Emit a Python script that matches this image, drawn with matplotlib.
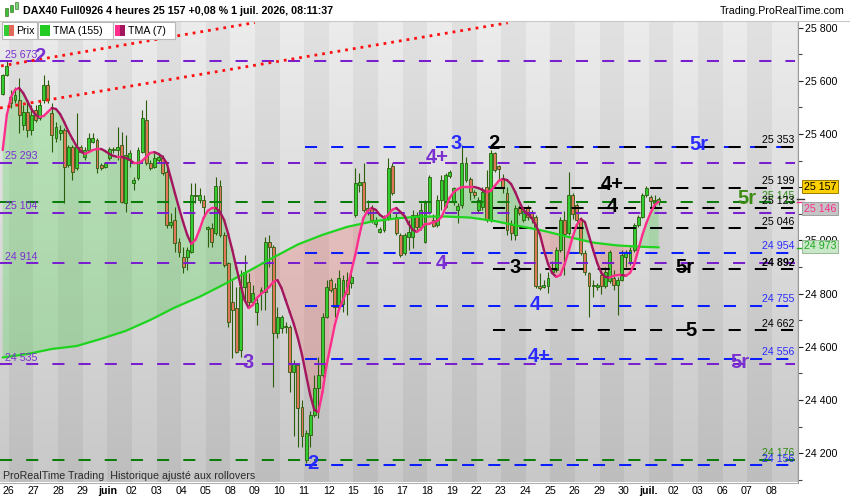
import numpy as np
import matplotlib
matplotlib.use('Agg')
import matplotlib.pyplot as plt
from matplotlib.collections import LineCollection
from matplotlib.patches import Rectangle
from matplotlib.ticker import FixedLocator, FuncFormatter, MultipleLocator

plt.rcParams['font.family'] = ['Liberation Sans', 'DejaVu Sans']

# ---------------- data (4h bars, index 0..160) ----------------
opens = [25549, 25622, 25541, 25528, 25528, 25434, 25484, 25415, 25490, 25459,
         25528, 25584, 25478, 25384, 25403, 25415, 25284, 25353, 25271, 25350,
         25315, 25340, 25371, 25378, 25284, 25277, 25309, 25340, 25340, 25359,
         25140, 25303, 25215, 25234, 25334, 25453, 25290, 25277, 25303, 25309,
         25259, 25058, 25077, 24996, 24939, 24939, 24958, 25167, 25152, 25152,
         25042, 25046, 25027, 25205, 25021, 24914, 24770, 24745, 24588, 24826,
         24845, 24770, 24732, 24801, 24808, 24996, 24977, 24651, 24670, 24674,
         24676, 24507, 24532, 24375, 24175, 24269, 24344, 24444, 24494, 24714,
         24852, 24820, 24751, 24760, 24850, 24839, 25096, 25209, 25221, 25115,
         25121, 25062, 25033, 25040, 25083, 25278, 25090, 25021, 24952, 25014,
         25014, 25096, 25052, 24996, 25108, 25077, 25058, 25152, 25127, 25244,
         25146, 25115, 25133, 25227, 25230, 25184, 25115, 25127, 25202, 25077,
         25328, 25278, 25234, 25180, 25058, 25021, 25127, 25077, 25121, 25102,
         25090, 24829, 24825, 24827, 24883, 24889, 24965, 25077, 25027, 25171,
         25134, 25077, 24952, 24877, 24827, 24825, 24870, 24830, 24846, 24860,
         24833, 24852, 24939, 24914, 24965, 25058, 25090, 25171, 25165, 25140,
         25150]
highs = [25626, 25678, 25566, 25578, 25610, 25509, 25528, 25509, 25509, 25528,
         25622, 25603, 25516, 25447, 25434, 25422, 25359, 25359, 25478, 25359,
         25353, 25403, 25403, 25384, 25290, 25296, 25353, 25353, 25428, 25409,
         25396, 25340, 25240, 25353, 25490, 25528, 25303, 25328, 25328, 25321,
         25271, 25102, 25127, 25008, 24977, 24977, 25215, 25215, 25196, 25171,
         25054, 25065, 25240, 25227, 25033, 24920, 24852, 24826, 24889, 24946,
         24877, 24833, 24783, 24826, 25014, 25021, 24983, 24751, 24720, 24695,
         24682, 24551, 24538, 24400, 24288, 24357, 24494, 24563, 24726, 24852,
         24858, 24839, 24889, 24870, 24880, 24877, 25271, 25253, 25290, 25152,
         25133, 25090, 25052, 25096, 25309, 25290, 25108, 25027, 25027, 25077,
         25115, 25108, 25140, 25152, 25246, 25100, 25171, 25246, 25253, 25265,
         25202, 25140, 25359, 25315, 25240, 25190, 25165, 25202, 25265, 25340,
         25334, 25284, 25250, 25200, 25077, 25134, 25134, 25121, 25134, 25115,
         25096, 24877, 24852, 24883, 24921, 24977, 25090, 25109, 25259, 25180,
         25140, 25090, 24964, 24883, 24852, 24839, 24890, 24900, 24965, 24889,
         24864, 24965, 24965, 24977, 25065, 25096, 25178, 25203, 25171, 25171,
         25165]
lows = [25547, 25618, 25497, 25516, 25403, 25415, 25390, 25396, 25447, 25453,
        25516, 25516, 25334, 25371, 25378, 25140, 25277, 25227, 25265, 25328,
        25303, 25334, 25365, 25252, 25265, 25271, 25303, 25328, 25303, 25140,
        25108, 25277, 25190, 25227, 25328, 25284, 25265, 25271, 25296, 25246,
        25046, 25046, 24958, 24939, 24877, 24889, 24952, 25140, 25140, 25083,
        24977, 24977, 25021, 25014, 24902, 24676, 24557, 24576, 24563, 24776,
        24745, 24764, 24682, 24739, 24739, 24902, 24449, 24632, 24651, 24651,
        24432, 24263, 24225, 24225, 24165, 24225, 24338, 24332, 24488, 24707,
        24808, 24714, 24739, 24730, 24720, 24820, 25090, 25184, 25108, 25096,
        25065, 25052, 25027, 25033, 25077, 25171, 25021, 24939, 24946, 24964,
        24971, 25040, 25040, 24989, 25100, 25050, 25052, 25115, 25121, 25234,
        25133, 25065, 25121, 25221, 25152, 25159, 25108, 25115, 25071, 25071,
        25259, 25227, 25180, 25020, 25002, 25002, 25096, 25071, 25077, 25065,
        24820, 24814, 24820, 24802, 24877, 24883, 24958, 24871, 25021, 25080,
        25052, 24946, 24871, 24714, 24789, 24814, 24800, 24820, 24839, 24814,
        24720, 24846, 24902, 24908, 24958, 25052, 25084, 25165, 25127, 25121,
        25135]
closes = [25622, 25656, 25516, 25547, 25472, 25484, 25415, 25472, 25453, 25509,
          25584, 25528, 25396, 25428, 25415, 25277, 25353, 25259, 25353, 25334,
          25340, 25384, 25384, 25271, 25271, 25290, 25344, 25344, 25353, 25146,
          25321, 25328, 25227, 25340, 25459, 25290, 25271, 25309, 25315, 25252,
          25058, 25071, 24989, 24958, 24902, 24964, 25171, 25172, 25171, 25125,
          25049, 24996, 25205, 25021, 24908, 24695, 24739, 24582, 24826, 24883,
          24770, 24801, 24764, 24814, 24996, 24977, 24651, 24714, 24714, 24679,
          24507, 24538, 24369, 24263, 24275, 24344, 24444, 24494, 24714, 24826,
          24814, 24751, 24858, 24850, 24800, 24864, 25215, 25221, 25115, 25121,
          25077, 25075, 25043, 25083, 25271, 25177, 25027, 24946, 25021, 25033,
          25096, 25052, 25115, 25140, 25240, 25055, 25152, 25227, 25246, 25256,
          25196, 25130, 25290, 25290, 25184, 25171, 25152, 25184, 25077, 25328,
          25265, 25268, 25196, 25040, 25027, 25121, 25102, 25109, 25090, 25084,
          24827, 24820, 24832, 24858, 24896, 24965, 25077, 25025, 25171, 25100,
          25077, 24952, 24883, 24827, 24833, 24833, 24830, 24880, 24958, 24833,
          24852, 24946, 24952, 24965, 25058, 25090, 25171, 25196, 25150, 25152,
          25157]

tma7 = [25340, 25471, 25539, 25566, 25573, 25554, 25524, 25494, 25472, 25464,
        25468, 25483, 25498, 25494, 25475, 25445, 25411, 25382, 25355, 25336,
        25325, 25332, 25340, 25344, 25344, 25336, 25325, 25318, 25314, 25314,
        25310, 25303, 25291, 25291, 25299, 25314, 25329, 25332, 25325, 25314,
        25291, 25235, 25178, 25122, 25069, 25021, 24987, 25002, 25040, 25085,
        25111, 25122, 25122, 25107, 25077, 25024, 24964, 24897, 24833, 24776,
        24746, 24757, 24784, 24799, 24810, 24825, 24844, 24851, 24821, 24776,
        24731, 24686, 24633, 24570, 24494, 24419, 24363, 24355, 24430, 24532,
        24607, 24682, 24739, 24776, 24814, 24882, 24946, 25021, 25085, 25111,
        25122, 25115, 25096, 25085, 25096, 25115, 25122, 25107, 25092, 25062,
        25040, 25032, 25043, 25062, 25062, 25069, 25073, 25088, 25122, 25160,
        25182, 25193, 25201, 25201, 25201, 25201, 25197, 25190, 25182, 25186,
        25205, 25224, 25231, 25227, 25212, 25182, 25145, 25115, 25100, 25085,
        25058, 25024, 24964, 24912, 24878, 24863, 24870, 24908, 24957, 25013,
        25058, 25081, 25069, 25017, 24964, 24915, 24878, 24863, 24860, 24867,
        24870, 24870, 24867, 24878, 24908, 24964, 25020, 25066, 25103, 25133,
        25146]

tma155_bars = [0, 6, 12, 18, 24, 30, 36, 42, 48, 54, 60, 66, 72, 78, 84, 90,
               96, 102, 108, 114, 120, 126, 132, 138, 144, 150, 156, 160]
tma155 = [24560, 24573, 24592, 24603, 24630, 24660, 24701, 24748, 24788, 24835,
          24885, 24936, 24985, 25021, 25051, 25071, 25083, 25090, 25090, 25086,
          25073, 25054, 25036, 25013, 24992, 24981, 24976, 24974]

day_labels = ['26', '27', '28', '29', 'juin', '02', '03', '04', '05', '08', '09',
              '10', '11', '12', '15', '16', '17', '18', '19', '22', '23', '24',
              '25', '26', '29', '30', 'juil.', '02', '03', '06', '07', '08']

purple_levels = [25673, 25293, 25104, 24914, 24535]
green_levels = [25145, 24176]
blue_levels = [25353, 24954, 24755, 24556, 24156]
black_levels = [25353, 25199, 25123, 25046, 24892, 24662]

right_label_prices = [25353, 25199, 25145, 25123, 25046, 24954, 24892, 24755,
                      24662, 24556, 24176, 24156]
right_label_kinds = ['k', 'k', 'g', 'k', 'k', 'b', 'kb', 'b', 'k', 'b', 'g', 'b']

wave_texts = ['2', '3', '2', '4+', '3', '2', '4', '3', '4', '4+', '4+', '4',
              '5r', '5r', '5r', '5', '5r']
wave_bars = [9.1, 59.8, 75.7, 105.9, 110.6, 119.8, 106.9, 124.9, 129.8, 130.8,
             148.6, 148.6, 169.8, 181.5, 166.5, 167.9, 179.7]
wave_prices = [25692, 24540, 24160, 25310, 25363, 25363, 24913, 24898, 24761,
               24563, 25209, 25128, 25359, 25158, 24897, 24662, 24540]
wave_kinds = ['p', 'p', 'b', 'p', 'b', 'k', 'p', 'k', 'b', 'b', 'k', 'k',
              'b', 'g', 'k', 'k', 'p']

trend_bars = [[-0.41, 61.5], [-0.66, 123.2]]
trend_prices = [[25656, 25819], [25498, 25818]]

last_price = 25157
last_tma7 = 25146
last_tma155 = 24973
header = "DAX40 Full0926 4 heures 25 157 +0,08 % 1 juil. 2026, 08:11:37"

# ---------------- styling ----------------
COL = {'p': '#7a1fd0', 'g': '#0b7d0b', 'b': '#0a1eff', 'k': '#000000', 'kb': '#000000'}
TXT = {'p': '#7a2fd0', 'g': '#2a8a12', 'b': '#2b2bff', 'k': '#000000', 'kb': '#000000'}
FS = 7.7

W, H = 850, 500
fig = plt.figure(figsize=(8.5, 5.0), dpi=100)
fig.patch.set_facecolor('white')
ax_left, ax_right_px, ax_top_px, ax_bot_px = 0.0, 797.5, 21.0, 482.5
ax = fig.add_axes([0, (H - ax_bot_px) / H, ax_right_px / W, (ax_bot_px - ax_top_px) / H])

XMIN, XMAX = -0.66, 193.85
YMIN, YMAX = 24090, 25825

def fmt(v):
    return f"{int(v):,}".replace(',', ' ')

# background: vertical gradient + alternating day bands
nb = 34
rows = 300
base = np.linspace(0.925, 0.785, rows)[:, None]
band_off = np.array([0.0 if j % 2 == 0 else -0.042 for j in range(nb)])[None, :]
bg = np.clip(base + band_off, 0, 1)
bg_rgb = np.dstack([bg, bg, bg])
ax.imshow(bg_rgb, extent=(-4.5, -4.5 + 6 * nb, YMIN, YMAX), aspect='auto',
          interpolation='nearest', origin='upper', zorder=0)

bars = np.arange(len(closes))
o = np.array(opens); h = np.array(highs); l = np.array(lows); c = np.array(closes)
t7 = np.array(tma7, dtype=float)
t155 = np.interp(bars, tma155_bars, tma155)

# fill between TMA7 and TMA155
ax.fill_between(bars, t7, t155, where=t7 >= t155, interpolate=True,
                color='#3fd83f', alpha=0.27, lw=0, zorder=1)
ax.fill_between(bars, t7, t155, where=t7 < t155, interpolate=True,
                color='#ff4d4d', alpha=0.22, lw=0, zorder=1)

# candles
up = c >= o
ax.vlines(bars, l, h, color='#2b5e0b', lw=0.8, zorder=2)
body_bottom = np.minimum(o, c)
body_h = np.maximum(np.abs(c - o), 3)
ax.bar(bars[up], body_h[up], bottom=body_bottom[up], width=0.72,
       color='#33cc33', edgecolor='#2b5e0b', lw=0.6, zorder=2.5)
ax.bar(bars[~up], body_h[~up], bottom=body_bottom[~up], width=0.72,
       color='#e0775a', edgecolor='#2b5e0b', lw=0.6, zorder=2.5)

# horizontal levels
dash = (0, (6.0, 7.0))
LW = 1.45
x_end = 193.3
for p in purple_levels:
    ax.plot([XMIN, x_end], [p, p], color=COL['p'], lw=LW, ls=dash, zorder=3)
for p in green_levels:
    ax.plot([XMIN, x_end], [p, p], color=COL['g'], lw=LW, ls=dash, zorder=3)
for p in blue_levels:
    ax.plot([73.7, x_end], [p, p], color=COL['b'], lw=LW, ls=dash, zorder=3)
for p in black_levels:
    ax.plot([119.6, x_end], [p, p], color=COL['k'], lw=LW, ls=(0, (6.0, 7.0)), zorder=3.1)

# TMA155
ax.plot(tma155_bars, tma155, color='#1ed41e', lw=1.6, zorder=4, solid_capstyle='round')

# TMA7 two-tone
pts = np.column_stack([bars, t7])
segs = np.stack([pts[:-1], pts[1:]], axis=1)
cols = ['#ff2d8c' if t7[i + 1] >= t7[i] else '#a3165e' for i in range(len(t7) - 1)]
ax.add_collection(LineCollection(segs, colors=cols, linewidths=1.7, zorder=4.2,
                                 capstyle='round', joinstyle='round'))

# red dotted trendlines
for tb, tp in zip(trend_bars, trend_prices):
    ax.plot(tb, tp, color='#ff1010', lw=2.0, ls=(0, (1, 1.8)), zorder=4.5)

# left purple labels
for p in purple_levels:
    ax.text(0.56, p + 5, fmt(p), color=TXT['p'], fontsize=FS, ha='left', va='bottom', zorder=6)

# right labels
for p, k in zip(right_label_prices, right_label_kinds):
    ax.text(193.2, p + 5, fmt(p), color=TXT[k], fontsize=FS, ha='right', va='bottom',
            fontweight='bold' if k == 'kb' else 'normal', zorder=6)

# wave labels
for t, b, p, k in zip(wave_texts, wave_bars, wave_prices, wave_kinds):
    ax.text(b, p, t, color=TXT[k] if k != 'g' else '#3c8c14', fontsize=14.5,
            fontweight='bold', ha='center', va='center', zorder=6)

ax.set_xlim(XMIN, XMAX)
ax.set_ylim(YMIN, YMAX)

# axes styling
for s in ['top', 'left']:
    ax.spines[s].set_visible(False)
ax.spines['right'].set_color('#9a9a9a')
ax.spines['bottom'].set_color('#b0b0b0')
ax.set_xticks([])
ax.yaxis.tick_right()
ax.yaxis.set_major_locator(FixedLocator(list(range(24200, 25801, 200))))
ax.yaxis.set_minor_locator(MultipleLocator(100))
ax.yaxis.set_major_formatter(FuncFormatter(lambda v, pos: fmt(v)))
ax.tick_params(axis='y', which='major', length=3.6, width=0.8, pad=1.8,
               labelsize=FS, colors='#222222', labelcolor='black')
ax.tick_params(axis='y', which='minor', length=3.0, width=0.8, colors='#444444')

# date labels
for k, lab in enumerate(day_labels):
    ax.text(1.5 + 6 * k, -0.0185, lab, transform=ax.get_xaxis_transform(),
            ha='center', va='center', fontsize=FS,
            fontweight='bold' if lab in ('juin', 'juil.') else 'normal', clip_on=False)

ax.text(3 / ax_right_px, (ax_bot_px - 476) / (ax_bot_px - ax_top_px),
        "ProRealTime Trading  Historique ajusté aux rollovers", transform=ax.transAxes,
        fontsize=FS, color='#2a2a2a', ha='left', va='center', zorder=6)

# price boxes on right axis
def pricebox(price, label, fc, ec, tc, dy_px):
    ax.annotate(label, xy=(1.0, price), xycoords=('axes fraction', 'data'),
                xytext=(6.4 * 0.72, dy_px * 0.72), textcoords='offset points',
                ha='left', va='center', fontsize=FS, color=tc, annotation_clip=False,
                bbox=dict(boxstyle='square,pad=0.15', fc=fc, ec=ec, lw=0.7), zorder=8)

pricebox(last_price, fmt(last_price), '#ffd000', '#9c7c00', 'black', 12)
pricebox(last_tma7, fmt(last_tma7), '#c4c4c4', '#a0a0a0', '#ff2d8c', -7)
pricebox(last_tma155, fmt(last_tma155), '#c8e8c8', '#98b898', '#21a821', 1.5)
for p, colr in [(last_tma7, '#ff2d8c'), (last_tma155, '#21a821'), (last_price, '#333333')]:
    ax.plot([XMAX, XMAX + 1.5], [p, p], color=colr, lw=1.0, clip_on=False, zorder=7)

# ---------------- header & legend (figure coords) ----------------
def fx(x):
    return x / W

def fy(y):
    return 1 - y / H

fig.add_artist(Rectangle((0, fy(20.5)), 1, 20.5 / H, transform=fig.transFigure,
                         fc='white', ec='none', zorder=10))
fig.add_artist(plt.Line2D([0, 1], [fy(20.7), fy(20.7)], transform=fig.transFigure,
                          color='#c8c8c8', lw=0.8, zorder=11))
# small candle icon
for (x0, y0, y1, colr) in [(4.5, 8, 16, '#3cbf3c'), (9.5, 5, 12, '#3cbf3c'), (14.5, 2, 9, '#7ad67a')]:
    fig.add_artist(Rectangle((fx(x0), fy(y1)), 3 / W, (y1 - y0) / H, transform=fig.transFigure,
                             fc=colr, ec='#2b5e0b', lw=0.4, zorder=11))
fig.text(fx(23), fy(11.5), header, fontsize=FS, fontweight='bold', ha='left', va='center', zorder=12)
fig.text(fx(845), fy(11.5), "Trading.ProRealTime.com", fontsize=FS, ha='right', va='center', zorder=12)

legend_boxes = [(1.5, 37, 'Prix', ['#33cc33', '#e06a5a']),
                (38, 113, 'TMA (155)', ['#22cc22', '#22cc22']),
                (113, 174.5, 'TMA (7)', ['#ff2d8c', '#a3165e'])]
for x0, x1, lab, icols in legend_boxes:
    fig.add_artist(Rectangle((fx(x0), fy(39)), (x1 - x0) / W, 17 / H, transform=fig.transFigure,
                             fc='white', ec='#b8b8b8', lw=0.8, zorder=10))
    fig.add_artist(Rectangle((fx(x0 + 2), fy(35.5)), 5 / W, 10 / H, transform=fig.transFigure,
                             fc=icols[0], ec='none', zorder=11))
    fig.add_artist(Rectangle((fx(x0 + 7), fy(35.5)), 5 / W, 10 / H, transform=fig.transFigure,
                             fc=icols[1], ec='none', zorder=11))
    fig.text(fx(x0 + 15), fy(30.5), lab, fontsize=FS, ha='left', va='center', zorder=12)

fig.savefig('out.png', dpi=100, facecolor='white')
